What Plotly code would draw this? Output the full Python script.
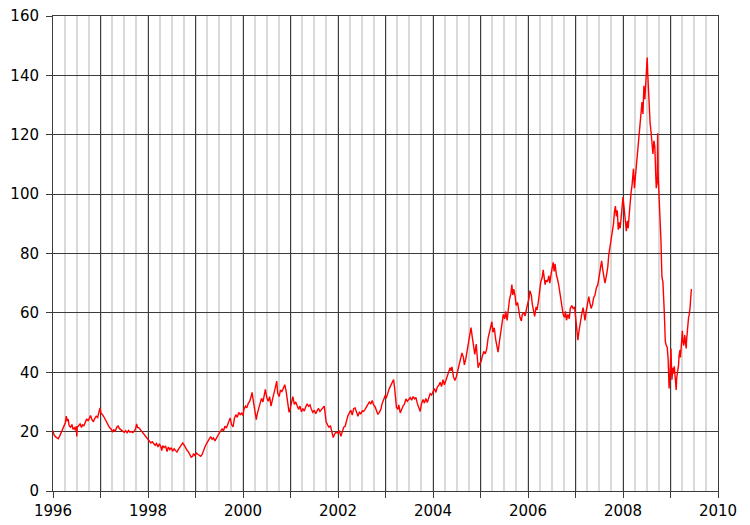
import plotly.graph_objects as go

# decimal year positions and price values
years = [
1996.00,1996.02,1996.05,1996.08,1996.11,1996.14,1996.17,1996.20,1996.23,1996.26,1996.28,1996.30,1996.32,1996.34,1996.37,1996.40,1996.42,1996.45,1996.47,1996.49,1996.50,1996.51,1996.54,1996.57,1996.60,1996.62,1996.65,1996.68,1996.71,1996.74,1996.77,1996.79,1996.82,1996.85,1996.88,1996.91,1996.94,1996.97,1996.99,
1997.01,1997.04,1997.07,1997.10,1997.13,1997.16,1997.19,1997.22,1997.25,1997.28,1997.31,1997.34,1997.37,1997.40,1997.43,1997.46,1997.50,1997.53,1997.56,1997.59,1997.62,1997.65,1997.68,1997.71,1997.74,1997.76,1997.78,1997.81,1997.84,1997.87,1997.90,1997.93,1997.96,
1998.00,1998.03,1998.06,1998.09,1998.12,1998.15,1998.18,1998.21,1998.24,1998.27,1998.29,1998.31,1998.34,1998.37,1998.40,1998.43,1998.46,1998.49,1998.52,1998.55,1998.58,1998.61,1998.64,1998.67,1998.70,1998.73,1998.76,1998.79,1998.82,1998.85,1998.88,1998.91,1998.94,1998.96,1998.99,
1999.02,1999.05,1999.08,1999.11,1999.14,1999.17,1999.20,1999.23,1999.26,1999.29,1999.32,1999.35,1999.38,1999.41,1999.44,1999.47,1999.50,1999.53,1999.56,1999.59,1999.62,1999.65,1999.68,1999.71,1999.73,1999.76,1999.79,1999.82,1999.85,1999.88,1999.91,1999.94,1999.97,
2000.00,2000.02,2000.05,2000.08,2000.11,2000.14,2000.17,2000.19,2000.22,2000.25,2000.28,2000.30,2000.33,2000.36,2000.39,2000.42,2000.45,2000.47,2000.50,2000.53,2000.56,2000.59,2000.62,2000.65,2000.68,2000.71,2000.73,2000.76,2000.79,2000.82,2000.85,2000.88,2000.91,2000.94,2000.97,2000.99,
2001.02,2001.05,2001.08,2001.11,2001.14,2001.17,2001.20,2001.23,2001.26,2001.29,2001.32,2001.35,2001.38,2001.41,2001.44,2001.47,2001.50,2001.53,2001.56,2001.59,2001.62,2001.65,2001.68,2001.71,2001.73,2001.75,2001.78,2001.81,2001.84,2001.87,2001.90,2001.93,2001.96,
2002.00,2002.03,2002.06,2002.09,2002.12,2002.15,2002.18,2002.21,2002.24,2002.27,2002.30,2002.33,2002.36,2002.39,2002.42,2002.45,2002.48,2002.51,2002.54,2002.57,2002.60,2002.63,2002.66,2002.69,2002.72,2002.75,2002.78,2002.81,2002.84,2002.87,2002.90,2002.93,2002.96,2002.99,
2003.02,2003.05,2003.08,2003.11,2003.14,2003.17,2003.19,2003.21,2003.23,2003.26,2003.28,2003.31,2003.34,2003.37,2003.40,2003.43,2003.46,2003.49,2003.52,2003.55,2003.58,2003.61,2003.64,2003.67,2003.70,2003.73,2003.76,2003.79,2003.82,2003.85,2003.88,2003.91,2003.94,2003.97,
2004.00,2004.03,2004.06,2004.09,2004.12,2004.15,2004.18,2004.21,2004.24,2004.27,2004.30,2004.33,2004.36,2004.38,2004.40,2004.43,2004.46,2004.49,2004.52,2004.55,2004.58,2004.61,2004.64,2004.66,2004.69,2004.72,2004.75,2004.78,2004.80,2004.83,2004.86,2004.88,2004.91,2004.93,2004.95,2004.98,
2005.01,2005.04,2005.07,2005.10,2005.13,2005.16,2005.19,2005.22,2005.24,2005.26,2005.29,2005.32,2005.35,2005.37,2005.40,2005.43,2005.46,2005.48,2005.51,2005.53,2005.56,2005.59,2005.61,2005.64,2005.66,2005.68,2005.70,2005.73,2005.75,2005.78,2005.80,2005.83,2005.86,2005.88,2005.91,2005.94,2005.97,
2006.00,2006.02,2006.04,2006.07,2006.09,2006.12,2006.14,2006.17,2006.19,2006.22,2006.25,2006.27,2006.30,2006.32,2006.34,2006.36,2006.38,2006.41,2006.44,2006.46,2006.49,2006.51,2006.53,2006.55,2006.57,2006.60,2006.62,2006.65,2006.68,2006.70,2006.72,2006.74,2006.77,2006.79,2006.81,2006.84,2006.87,2006.89,2006.92,2006.95,2006.98,
2007.00,2007.02,2007.04,2007.05,2007.07,2007.10,2007.13,2007.16,2007.18,2007.20,2007.23,2007.26,2007.28,2007.30,2007.33,2007.36,2007.38,2007.41,2007.44,2007.47,2007.50,2007.53,2007.55,2007.57,2007.60,2007.62,2007.65,2007.68,2007.70,2007.72,2007.74,2007.76,2007.78,2007.80,2007.82,2007.84,2007.86,2007.88,2007.90,2007.92,2007.94,2007.96,2007.98,
2008.00,2008.02,2008.04,2008.06,2008.07,2008.09,2008.11,2008.13,2008.15,2008.17,2008.19,2008.21,2008.22,2008.24,2008.26,2008.28,2008.30,2008.32,2008.34,2008.36,2008.38,2008.40,2008.42,2008.43,2008.44,2008.46,2008.47,2008.49,2008.50,2008.51,2008.52,2008.53,2008.55,2008.57,2008.59,2008.61,2008.63,2008.65,2008.67,2008.69,2008.70,2008.72,2008.73,2008.74,2008.76,2008.77,2008.79,2008.80,2008.81,2008.82,2008.84,2008.85,2008.86,2008.87,2008.88,2008.89,2008.91,2008.93,2008.95,2008.96,2008.97,2008.99,
2009.00,2009.01,2009.02,2009.03,2009.05,2009.06,2009.08,2009.10,2009.12,2009.13,2009.15,2009.17,2009.18,2009.20,2009.21,2009.23,2009.25,2009.26,2009.28,2009.30,2009.31,2009.33,2009.34,2009.36,2009.38,2009.39,2009.41,2009.43,2009.44,
]

prices = [
20.3,19.0,18.3,17.9,17.6,18.5,19.5,20.8,21.5,23.0,25.2,23.5,24.2,22.0,21.5,22.4,20.8,21.3,20.5,21.8,18.4,21.5,22.0,22.6,21.4,22.3,22.0,23.4,24.3,23.6,25.0,25.4,24.0,23.3,24.5,25.2,24.8,26.5,28.0,
26.2,25.8,25.0,24.1,23.0,22.0,21.4,20.9,20.0,20.6,20.2,21.4,21.9,21.0,20.7,20.2,19.8,20.3,19.6,20.4,19.8,20.0,19.7,20.2,21.0,22.6,21.4,21.3,20.7,20.0,19.2,18.6,18.2,
17.4,16.8,16.2,16.6,15.8,15.4,16.0,14.8,15.9,14.9,13.6,15.3,14.6,15.2,13.3,14.8,13.9,14.6,13.4,14.2,13.6,13.1,14.0,14.8,15.3,16.2,15.5,14.4,13.8,13.2,12.4,11.4,11.7,12.6,11.9,
12.8,12.4,12.0,11.7,12.3,13.8,14.9,15.9,16.7,17.8,18.3,17.4,17.9,16.9,17.6,18.6,19.5,20.2,20.9,20.3,21.8,21.2,22.5,23.8,24.6,22.3,21.6,24.5,25.7,24.8,26.5,25.7,26.2,
25.5,27.5,28.6,28.0,29.5,30.2,31.8,33.2,30.0,27.3,24.0,26.0,28.4,29.5,31.2,30.0,32.5,34.2,31.5,30.2,31.8,28.6,30.8,32.5,34.8,37.0,33.0,31.8,34.0,33.5,35.0,35.8,33.4,29.5,26.5,27.5,
29.8,31.8,29.2,30.0,28.7,27.5,28.6,26.7,27.8,26.9,28.3,29.4,28.5,29.0,27.5,26.5,27.2,26.0,27.0,27.8,26.8,27.5,28.0,28.6,26.0,23.3,22.3,21.5,22.0,19.5,18.0,19.2,19.8,
19.5,20.3,18.4,20.0,21.5,21.8,24.0,25.4,26.3,27.2,25.6,27.8,28.0,26.5,25.2,26.5,26.0,27.0,26.8,27.5,28.6,29.2,30.0,29.3,30.5,29.0,28.4,26.8,25.8,26.5,27.4,29.5,31.0,32.0,
31.5,33.5,34.5,35.5,36.8,37.5,35.0,30.5,28.2,27.5,29.0,26.3,27.8,28.6,29.3,31.0,30.2,30.8,31.5,30.6,31.8,31.0,31.5,29.5,28.2,26.8,29.5,30.8,29.6,31.2,29.8,31.5,32.8,32.3,
33.5,34.5,33.2,35.0,35.5,36.6,35.2,37.5,35.8,37.2,38.5,40.0,41.5,40.5,41.8,38.5,37.2,38.4,40.5,41.8,44.2,46.5,45.0,42.5,44.5,47.5,50.0,54.5,55.0,51.5,48.5,46.0,49.5,43.5,41.5,43.0,
43.5,45.5,47.0,46.2,47.8,51.5,54.0,56.5,57.0,53.5,55.0,51.0,49.0,46.8,50.5,53.5,56.0,59.5,58.0,60.5,57.5,62.0,64.5,66.5,69.5,66.0,68.0,65.5,62.5,63.5,61.0,58.5,57.3,59.5,60.0,59.0,61.5,
63.0,64.8,67.5,66.0,63.0,61.0,58.8,62.0,61.0,64.0,67.5,70.5,72.0,74.5,72.0,69.5,71.0,70.5,72.5,70.0,73.5,75.5,77.0,74.0,76.5,72.5,71.5,69.0,66.0,63.0,61.0,59.5,58.5,60.5,57.5,59.5,58.0,61.5,62.5,61.5,62.0,
58.0,55.5,52.0,50.8,53.5,57.0,59.5,61.8,58.5,57.5,61.0,64.0,65.5,63.5,61.5,63.0,65.0,66.0,68.5,69.5,72.5,75.0,77.5,75.0,71.5,70.0,72.5,75.5,79.5,81.5,83.5,86.0,87.5,90.0,94.0,96.0,92.5,94.5,88.0,90.5,88.5,91.5,95.5,
99.0,96.0,93.0,89.5,87.5,91.0,88.5,93.0,98.0,100.5,103.0,106.0,108.5,102.0,105.5,110.0,114.0,118.5,120.0,124.5,126.5,131.0,127.0,133.5,136.5,132.0,136.0,140.5,143.0,146.0,141.0,136.0,128.5,124.0,121.0,115.0,113.5,118.0,116.0,106.0,102.0,104.0,120.5,106.5,100.0,94.0,91.5,84.0,77.5,72.0,70.5,68.0,64.0,60.0,55.5,50.5,49.0,48.5,44.5,40.5,34.5,39.5,
44.5,48.0,42.0,37.5,41.5,39.5,42.0,37.0,34.0,38.0,40.0,42.5,45.5,47.5,45.0,52.0,54.0,50.5,49.0,52.5,49.5,48.0,51.0,56.0,58.5,59.0,61.5,66.0,68.0,
]

year_ticks = list(range(1996, 2011))
year_labels = [str(y) if y % 2 == 0 else "" for y in year_ticks]
y_ticks = [0, 20, 40, 60, 80, 100, 120, 140, 160]

fig = go.Figure()
fig.add_trace(go.Scatter(
    x=years, y=prices, mode="lines",
    line=dict(color="#ff0000", width=1.4),
    hoverinfo="x+y", showlegend=False,
))

font = dict(family="Verdana, 'DejaVu Sans', sans-serif", size=15, color="#000000")

# the page body adds an ~8px offset, so the figure is sized to fit the window
fig.update_layout(
    width=742, height=517,
    margin=dict(l=45, r=32, t=8, b=34, autoexpand=False),
    paper_bgcolor="white", plot_bgcolor="white",
    font=font,
    showlegend=False,
)
fig.update_xaxes(
    range=[1996, 2010], automargin=False,
    tickmode="array", tickvals=year_ticks, ticktext=year_labels,
    showgrid=True, gridcolor="#3c3c3c", gridwidth=1,
    ticks="outside", ticklen=6, tickcolor="#3c3c3c",
    showline=True, linecolor="#3c3c3c", linewidth=1, mirror=True,
    zeroline=False, ticklabeloverflow="allow",
    minor=dict(dtick=0.25, tick0=1996, showgrid=True, gridcolor="#d9d9d9", gridwidth=2, ticks=""),
    tickfont=font,
)
fig.update_yaxes(
    range=[0, 160], automargin=False,
    tickmode="array", tickvals=y_ticks,
    showgrid=True, gridcolor="#3c3c3c", gridwidth=1,
    ticks="outside", ticklen=6, tickcolor="#3c3c3c",
    showline=True, linecolor="#3c3c3c", linewidth=1, mirror=True,
    zeroline=False, ticklabelstandoff=4, ticklabeloverflow="allow",
    tickfont=font,
)

fig.write_html("out.html")
